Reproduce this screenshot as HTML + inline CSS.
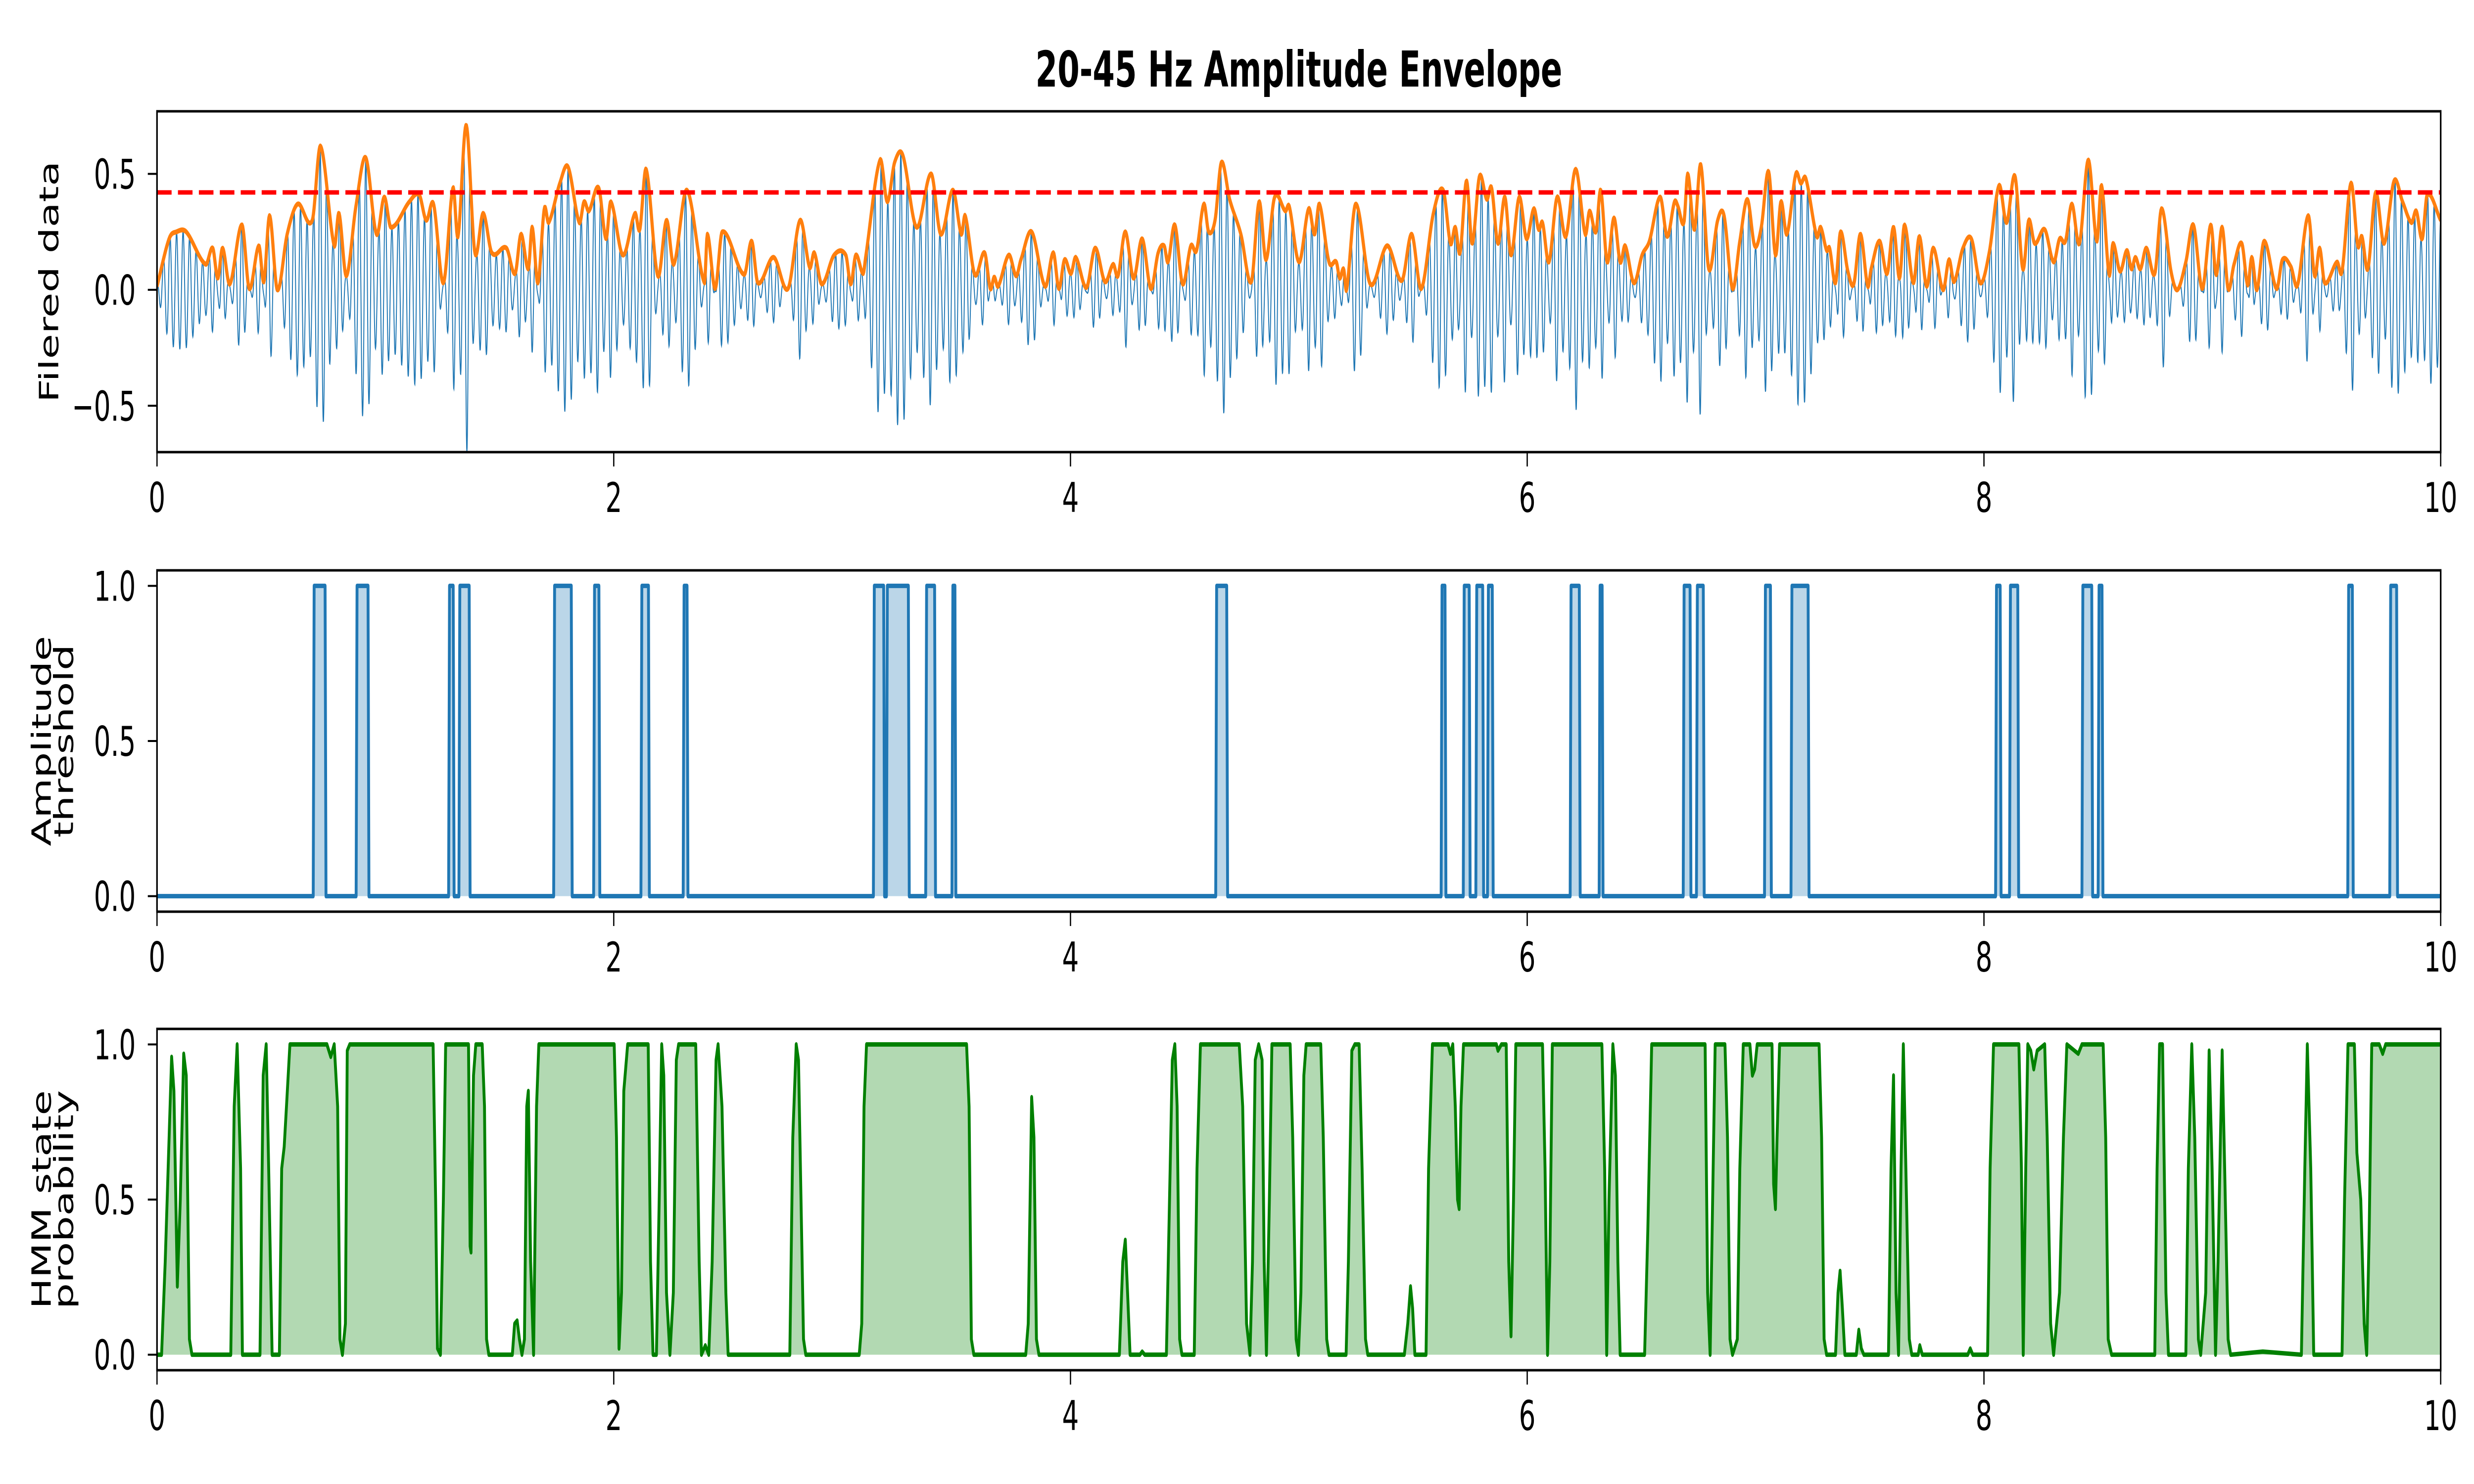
<!DOCTYPE html>
<html><head><meta charset="utf-8"><style>
html,body{margin:0;padding:0;background:#fff;overflow:hidden;width:100%;height:100%;}
svg{display:block;width:100vw;height:100vh;font-family:"DejaVu Sans","Liberation Sans",sans-serif;}
</style></head><body>
<svg id="fig" viewBox="0 0 7800 3000" preserveAspectRatio="none" xmlns="http://www.w3.org/2000/svg">
<rect width="7800" height="3000" fill="#fff"/>
<text x="4095" y="175" text-anchor="middle" font-size="100" font-weight="bold">20-45 Hz Amplitude Envelope</text>
<g id="p1"></g><g id="p2"></g><g id="p3"></g>
</svg>
<script>
// ---- data ----
const envT=[0,0.053,0.085,0.128,0.213,0.244,0.266,0.287,0.319,0.372,0.404,0.446,0.468,0.493,0.527,0.570,0.616,0.68,0.716,0.776,0.797,0.829,0.871,0.914,0.961,0.995,1.024,1.105,1.148,1.179,1.211,1.254,1.296,1.318,1.354,1.392,1.428,1.466,1.53,1.568,1.594,1.626,1.643,1.668,1.696,1.715,1.764,1.800,1.849,1.870,1.891,1.934,1.966,1.987,2.04,2.093,2.114,2.142,2.193,2.231,2.263,2.320,2.397,2.41,2.444,2.475,2.571,2.604,2.631,2.70,2.763,2.816,2.858,2.878,2.911,2.965,3.016,3.038,3.060,3.092,3.103,3.166,3.198,3.230,3.266,
3.326,3.390,3.432,3.485,3.522,3.539,3.581,3.624,3.649,3.666,3.683,3.730,3.762,3.783,3.830,3.889,3.925,3.949,3.974,4.002,4.023,4.070,4.108,4.151,4.187,4.208,4.240,4.276,4.314,4.352,4.384,4.410,4.427,4.457,4.491,4.527,4.552,4.584,4.605,4.633,4.661,4.697,4.746,4.792,4.826,4.856,4.894,4.941,4.958,5.001,5.043,5.069,5.090,5.132,5.164,5.179,5.196,5.209,5.249,5.313,5.387,5.451,5.494,5.536,5.589,5.632,5.664,5.685,5.706,5.734,5.759,5.791,5.823,5.844,5.872,5.902,5.929,5.965,5.997,6.029,6.050,6.067,6.095,6.131,6.169,6.212,6.254,6.273,6.301,6.322,6.350,6.380,6.407,6.429,6.467,6.503,6.535,6.582,6.613,6.645,
6.660,6.686,6.703,6.732,6.760,6.795,6.834,6.862,6.899,6.931,6.964,6.996,7.025,7.057,7.087,7.111,7.137,7.176,7.198,7.220,7.268,7.285,7.311,7.324,7.350,7.372,7.404,7.430,7.459,7.491,7.506,7.543,7.576,7.604,7.630,7.652,7.691,7.717,7.749,7.778,7.821,7.847,7.869,7.908,7.945,7.984,8.023,8.066,8.099,8.136,8.170,8.196,8.222,8.266,8.305,8.331,8.357,8.385,8.418,8.457,8.494,8.515,8.548,8.565,8.596,8.626,8.646,8.663,8.685,8.711,8.748,8.778,8.819,8.847,8.884,8.917,8.956,8.993,9.017,9.043,9.069,9.095,9.129,9.155,9.173,9.195,9.227,9.281,9.307,9.344,9.373,9.420,9.448,9.470,9.492,9.546,9.568,9.607,9.637,9.655,9.681,9.715,9.752,9.796,9.833,9.872,9.893,9.919,9.941,10.0];
const envV=[0.015,0.22,0.25,0.25,0.11,0.18,0.05,0.18,0.025,0.28,0.005,0.19,0.035,0.32,0.0,0.24,0.37,0.30,0.62,0.19,0.33,0.06,0.36,0.57,0.24,0.40,0.27,0.38,0.41,0.30,0.37,0.03,0.44,0.23,0.71,0.16,0.33,0.16,0.18,0.07,0.24,0.09,0.27,0.03,0.35,0.29,0.46,0.53,0.29,0.38,0.34,0.44,0.22,0.38,0.15,0.33,0.26,0.52,0.06,0.30,0.11,0.43,0.03,0.24,0.005,0.25,0.066,0.21,0.03,0.14,0.005,0.30,0.096,0.16,0.025,0.15,0.15,0.025,0.15,0.07,0.14,0.56,0.38,0.55,0.58,
0.27,0.50,0.24,0.43,0.24,0.32,0.066,0.16,0.005,0.055,0.015,0.15,0.06,0.13,0.25,0.015,0.16,0.005,0.13,0.07,0.14,0.01,0.18,0.035,0.11,0.06,0.25,0.05,0.22,0.005,0.16,0.19,0.12,0.28,0.025,0.19,0.17,0.37,0.25,0.30,0.55,0.39,0.24,0.035,0.38,0.13,0.40,0.34,0.36,0.12,0.35,0.24,0.37,0.12,0.12,0.05,0.09,0.0,0.37,0.025,0.19,0.04,0.24,0.005,0.33,0.43,0.20,0.27,0.16,0.47,0.20,0.49,0.39,0.44,0.20,0.40,0.15,0.40,0.22,0.35,0.26,0.29,0.12,0.40,0.23,0.52,0.24,0.34,0.25,0.43,0.12,0.31,0.12,0.19,0.03,0.15,0.21,0.40,0.23,0.38,
0.36,0.29,0.50,0.26,0.54,0.09,0.30,0.32,0.005,0.21,0.39,0.19,0.27,0.51,0.15,0.38,0.24,0.50,0.46,0.48,0.23,0.27,0.17,0.18,0.03,0.25,0.08,0.025,0.24,0.015,0.09,0.21,0.07,0.27,0.05,0.28,0.03,0.23,0.015,0.18,0.0,0.13,0.035,0.18,0.22,0.03,0.16,0.45,0.29,0.49,0.09,0.30,0.20,0.26,0.12,0.22,0.21,0.37,0.20,0.56,0.21,0.45,0.065,0.20,0.08,0.17,0.09,0.14,0.09,0.18,0.07,0.35,0.08,0.0,0.12,0.28,0.005,0.28,0.065,0.27,0.005,0.11,0.20,0.02,0.14,0.0,0.21,0.005,0.13,0.10,0.02,0.32,0.06,0.18,0.03,0.12,0.08,0.46,0.19,0.23,0.09,0.42,0.20,0.47,0.38,0.29,0.34,0.22,0.41,0.30];
const threshold=0.42;
const carrierHz=35;
const onT=[0.688,0.876,1.281,1.326,1.741,1.916,2.123,2.308,3.141,3.198,3.370,3.485,4.640,5.627,5.724,5.779,5.830,6.192,6.319,6.687,6.745,7.043,7.159,8.055,8.116,8.433,8.504,9.597,9.781];
const offT=[0.736,0.924,1.297,1.367,1.814,1.935,2.152,2.321,3.182,3.290,3.405,3.494,4.684,5.640,5.746,5.805,5.847,6.228,6.328,6.713,6.771,7.065,7.230,8.071,8.148,8.472,8.517,9.613,9.807];
const hmmT=[0,0.02,0.036,0.064,0.074,0.089,0.102,0.117,0.128,0.142,0.153,0.323,0.338,0.351,0.366,0.374,0.451,0.465,0.478,0.489,0.504,0.536,0.546,0.557,0.567,0.582,0.744,0.761,0.776,0.791,0.801,0.812,0.825,0.833,0.844,1.209,1.220,1.228,1.241,1.254,1.264,1.364,1.371,1.375,1.386,1.396,1.424,1.434,1.443,1.453,1.556,1.566,1.577,1.587,1.598,1.609,1.619,1.626,1.636,1.649,1.662,1.672,2.002,2.012,2.023,2.034,2.044,2.061,2.151,2.161,2.172,2.187,2.199,2.210,2.219,2.231,2.246,2.261,2.274,2.284,2.359,2.374,2.384,2.401,2.416,2.431,2.448,2.457,2.474,2.491,2.501,2.771,2.784,2.799,2.809,2.831,2.841,3.075,3.086,3.096,3.107,
3.545,3.556,3.566,3.577,3.804,3.815,3.830,3.840,3.851,3.862,4.214,4.229,4.240,4.250,4.261,4.304,4.314,4.325,4.420,4.431,4.446,4.457,4.467,4.478,4.488,4.542,4.554,4.569,4.739,4.754,4.771,4.786,4.797,4.809,4.824,4.839,4.848,4.858,4.871,4.882,4.962,4.973,4.988,4.998,5.009,5.022,5.032,5.096,5.107,5.122,5.132,5.207,5.217,5.232,5.245,5.264,5.277,5.292,5.302,5.462,5.477,5.489,5.498,5.508,5.557,5.568,5.585,5.653,5.664,5.674,5.685,5.695,5.702,5.710,5.721,5.865,5.872,5.887,5.908,5.919,5.929,5.940,5.950,6.067,6.078,6.089,6.099,6.110,6.327,6.339,6.348,6.358,6.375,6.386,6.397,6.407,6.514,6.528,6.545,
6.779,6.790,6.801,6.812,6.823,6.866,6.877,6.888,6.899,6.920,6.931,6.946,6.975,6.986,6.996,7.007,7.072,7.079,7.087,7.094,7.105,7.278,7.289,7.300,7.311,7.350,7.361,7.370,7.380,7.391,7.441,7.452,7.463,7.474,7.582,7.593,7.604,7.615,7.626,7.637,7.647,7.658,7.673,7.684,7.712,7.719,7.730,7.929,7.940,7.951,8.016,8.027,8.042,8.153,8.164,8.172,8.183,8.192,8.205,8.218,8.233,8.266,8.277,8.292,8.305,8.331,8.348,8.363,8.413,8.429,8.522,8.533,8.544,8.559,8.748,8.758,8.769,8.782,8.797,8.808,8.884,8.895,8.910,8.923,8.939,8.949,8.971,8.986,8.999,9.014,9.025,9.043,9.054,9.069,9.080,9.221,9.390,9.405,9.416,9.431,9.444,9.568,9.579,9.594,9.622,9.633,9.650,9.665,9.676,9.687,9.698,9.731,9.746,9.759,10.0];
const hmmP=[0,0,0.3,0.96,0.85,0.22,0.5,0.97,0.9,0.05,0,0,0.8,1,0.6,0,0,0.9,1,0.6,0,0,0.6,0.67,0.8,1,1,0.96,1,0.8,0.05,0,0.1,0.98,1,1,0.5,0.02,0,0.5,1,1,0.35,0.33,0.9,1,1,0.8,0.05,0,0,0.1,0.11,0.05,0,0.05,0.8,0.85,0.3,0,0.8,1,1,0.7,0.02,0.2,0.85,1,1,0.3,0,0,0.5,1,0.9,0.2,0,0.2,0.95,1,1,0.3,0,0.03,0,0.3,0.95,1,0.8,0.2,0,0,0.7,1,0.95,0.05,0,0,0.1,0.8,1,
1,0.8,0.05,0,0,0.1,0.83,0.7,0.05,0,0,0.3,0.37,0.2,0,0,0.01,0,0,0.4,0.95,1,0.8,0.05,0,0,0.6,1,1,0.8,0.1,0,0.3,0.95,1,0.95,0.3,0,0.5,1,1,0.7,0.05,0,0.2,0.9,1,1,0.7,0.05,0,0,0.3,0.98,1,1,0.6,0.05,0,0,0.1,0.22,0.15,0,0,0.6,1,1,0.97,1,0.8,0.5,0.47,0.8,1,1,0.98,1,1,0.3,0.06,0.5,1,1,0.6,0,0.3,1,1,0.6,0,0.5,1,0.9,0.3,0,0,0.4,1,
1,0.2,0,0.5,1,1,0.7,0.05,0,0.05,0.6,1,1,0.9,0.92,1,1,0.55,0.47,0.7,1,1,0.7,0.05,0,0,0.2,0.27,0.15,0,0,0.08,0.02,0,0,0.6,0.9,0.2,0,0.6,1,0.6,0.05,0,0,0.03,0,0,0.02,0,0,0.6,1,1,0.6,0,0.6,1,0.98,0.92,0.98,1,0.7,0.1,0,0.2,0.7,1,0.97,1,1,0.7,0.05,0,0,0.6,1,1,0.2,0,0,0.6,1,0.7,0.05,0,0.2,0.98,0.6,0,0.3,0.98,0.6,0.05,0,0.01,0,0.6,1,0.6,0,0,0.5,1,1,0.65,0.5,0.1,0,0.4,1,1,0.97,1,1];
const xTicks=[0,2,4,6,8,10];
const p1Ticks=[-0.5,0,0.5], p1Labels=["\u22120.5","0.0","0.5"];
const p23Ticks=[0,0.5,1], p23Labels=["0.0","0.5","1.0"];

// ---- layout ----
const NS="http://www.w3.org/2000/svg";
const X0=495,X1=7695;
const xs=t=>X0+(t/10)*(X1-X0);
function mk(p,tag,at){const e=document.createElementNS(NS,tag);for(const k in at)e.setAttribute(k,at[k]);p.appendChild(e);return e;}
function yScale(top,bot,lo,hi){return v=>bot-(v-lo)/(hi-lo)*(bot-top);}
// monotone-ish cubic (Catmull-Rom) evaluation of envelope
function envAt(t){
  const T=envT,V=envV,n=T.length;
  if(t<=T[0])return V[0]; if(t>=T[n-1])return V[n-1];
  let i=1;while(T[i]<t)i++;
  const i0=i-1,i1=i;
  const t0=T[i0],t1=T[i1],h=t1-t0,s=(t-t0)/h;
  const m=(k)=>{const a=Math.max(0,k-1),b=Math.min(n-1,k+1);return (V[b]-V[a])/(T[b]-T[a]);};
  const m0=m(i0)*h,m1=m(i1)*h,p0=V[i0],p1=V[i1];
  const s2=s*s,s3=s2*s;
  let v=(2*s3-3*s2+1)*p0+(s3-2*s2+s)*m0+(-2*s3+3*s2)*p1+(s3-s2)*m1;
  const lo=Math.min(p0,p1)-0.02,hi=Math.max(p0,p1)+0.02;
  return Math.max(lo,Math.min(hi,v));
}

function axes(g,top,bot,ys,yt,yl,labelLines,name){
  const clip=mk(g,'clipPath',{id:'clip-'+name});
  mk(clip,'rect',{x:X0,y:top,width:X1-X0,height:bot-top});
  xTicks.forEach(t=>{
    const tk=mk(g,'line',{x1:xs(t),x2:xs(t),y1:bot,y2:bot+29,stroke:'#000','stroke-width':4});
    
    
    const tl=mk(g,'text',{x:xs(t),y:bot+121,'text-anchor':'middle','font-size':83});
    tl.textContent=String(t);
    
    
  });
  yt.forEach((v,i)=>{
    const tk=mk(g,'line',{x1:X0-29,x2:X0,y1:ys(v),y2:ys(v),stroke:'#000','stroke-width':4});
    
    
    const tl=mk(g,'text',{x:428,y:ys(v)+30,'text-anchor':'end','font-size':83});
    tl.textContent=yl[i];
    
    
  });
  const cy=(top+bot)/2;
  const bases=labelLines.length===1?[183]:[160,230];
  labelLines.forEach((s,i)=>{
    const t=mk(g,'text',{x:bases[i],y:cy,'text-anchor':'middle','font-size':83,transform:`rotate(-90 ${bases[i]} ${cy})`});
    t.textContent=s;
    
    
  });
}
function frame(g,top,bot){
  const f=mk(g,'rect',{x:X0,y:top,width:X1-X0,height:bot-top,fill:'none',stroke:'#000','stroke-width':5});
  
  
}

// ---- panel 1 ----
(function(){
  const g=document.getElementById('p1');
  const top=225,bot=914,ys=yScale(top,bot,-0.70,0.77);
  axes(g,top,bot,ys,p1Ticks,p1Labels,['Filered data'],'p1');
  let d='';
  for(let i=0;i<=10000;i++){const t=i/1000;const v=envAt(t)*Math.cos(2*Math.PI*carrierHz*t);d+=(i?'L':'M')+xs(t).toFixed(1)+' '+ys(v).toFixed(1);}
  const b=mk(g,'path',{d:d,fill:'none',stroke:'#1f77b4','stroke-width':3,'clip-path':'url(#clip-p1)'});
  
  
  let e='';
  for(let i=0;i<=4000;i++){const t=i/400;e+=(i?'L':'M')+xs(t).toFixed(1)+' '+ys(envAt(t)).toFixed(1);}
  const o=mk(g,'path',{d:e,fill:'none',stroke:'#ff7f0e','stroke-width':10,'stroke-linejoin':'round','clip-path':'url(#clip-p1)'});
  
  
  const r=mk(g,'line',{x1:X0,x2:X1,y1:ys(threshold),y2:ys(threshold),stroke:'#ff0000','stroke-width':9,'stroke-dasharray':'46 20'});
  
  
  frame(g,top,bot);
})();

// ---- panel 2 ----
(function(){
  const g=document.getElementById('p2');
  const top=1153,bot=1843,ys=yScale(top,bot,-0.05,1.05);
  axes(g,top,bot,ys,p23Ticks,p23Labels,['Amplitude','threshold'],'p2');
  const dt=0.004;
  let d='M'+xs(0)+' '+ys(0);
  onT.forEach((a,i)=>{const b=offT[i];
    d+='L'+xs(a-dt).toFixed(1)+' '+ys(0)+'L'+xs(a).toFixed(1)+' '+ys(1)+'L'+xs(b).toFixed(1)+' '+ys(1)+'L'+xs(b+dt).toFixed(1)+' '+ys(0);});
  d+='L'+xs(10)+' '+ys(0);
  const f=mk(g,'path',{d:d+'Z',fill:'#1f77b4','fill-opacity':0.3,stroke:'none'});
  
  
  const l=mk(g,'path',{d:d,fill:'none',stroke:'#1f77b4','stroke-width':9,'stroke-linejoin':'round','clip-path':'url(#clip-p2)'});
  
  
  frame(g,top,bot);
})();

// ---- panel 3 ----
(function(){
  const g=document.getElementById('p3');
  const top=2080,bot=2770,ys=yScale(top,bot,-0.05,1.05);
  axes(g,top,bot,ys,p23Ticks,p23Labels,['HMM state','probability'],'p3');
  let d='';hmmT.forEach((t,i)=>{d+=(i?'L':'M')+xs(t).toFixed(1)+' '+ys(hmmP[i]).toFixed(1);});
  const f=mk(g,'path',{d:d+'L'+xs(10)+' '+ys(0)+'L'+xs(0)+' '+ys(0)+'Z',fill:'#008000','fill-opacity':0.3,stroke:'none'});
  
  
  const l=mk(g,'path',{d:d,fill:'none',stroke:'#008000','stroke-width':9,'stroke-linejoin':'round','clip-path':'url(#clip-p3)'});
  
  
  frame(g,top,bot);
})();
</script>
</body></html>
